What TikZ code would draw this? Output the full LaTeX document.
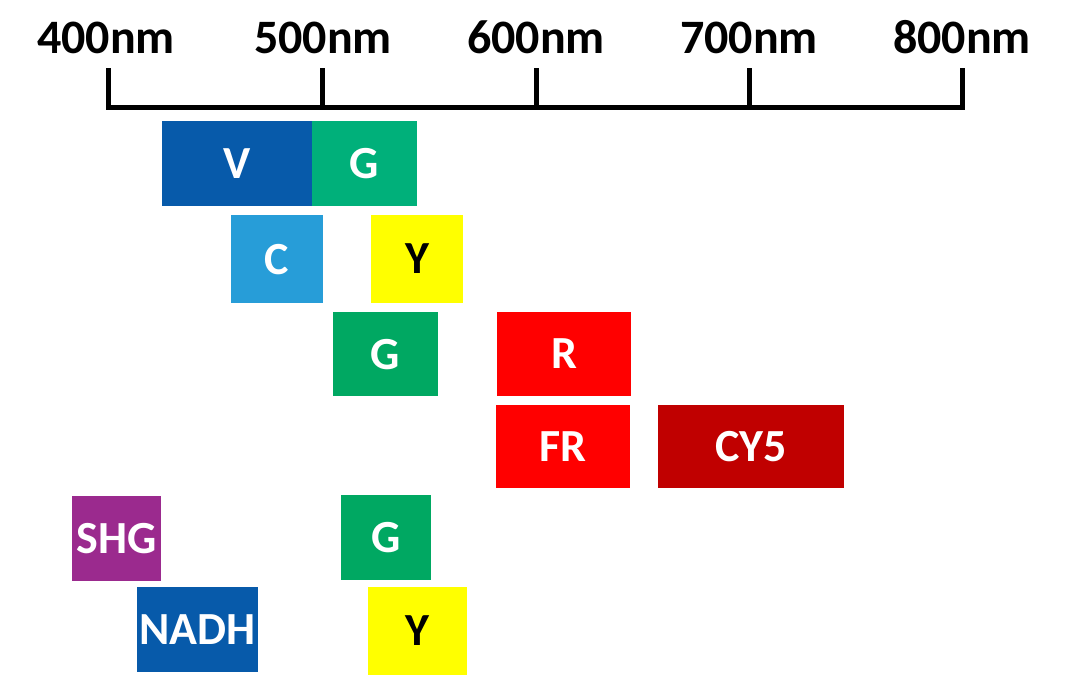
\documentclass[tikz,border=0pt]{standalone}
\usepackage{fontspec}
\setmainfont{Carlito}
\definecolor{vblue}{RGB}{7,90,170}
\definecolor{gteal}{RGB}{0,176,122}
\definecolor{ggreen}{RGB}{0,168,98}
\definecolor{cblue}{RGB}{39,157,216}
\definecolor{yyellow}{RGB}{255,255,0}
\definecolor{rred}{RGB}{255,0,0}
\definecolor{cyred}{RGB}{192,0,0}
\definecolor{shgpurple}{RGB}{155,42,142}
\begin{document}
\begin{tikzpicture}[x=1pt,y=-1pt,
  lbl/.style={font=\fontsize{48}{48}\selectfont\bfseries, anchor=base, inner sep=0pt},
  band/.style={draw=none, inner sep=0pt, outer sep=0pt, text=white,
    font=\fontsize{46}{46}\selectfont\bfseries, text depth=0pt},
  axis/.style={line width=5pt, black, line join=miter}]
\useasboundingbox (0,0) rectangle (1076,678);
% axis
\coordinate (t400) at (108,107);
\coordinate (t500) at (322,107);
\coordinate (t600) at (536,107);
\coordinate (t700) at (749,107);
\coordinate (t800) at (962,107);
\draw[axis] ([yshift=39pt]t400) -- (t400) -- (t800) -- ([yshift=39pt]t800);
\draw[axis] (t500) -- ([yshift=39pt]t500);
\draw[axis] (t600) -- ([yshift=39pt]t600);
\draw[axis] (t700) -- ([yshift=39pt]t700);
\node[lbl] (l400) at (106,53) {400nm};
\node[lbl] (l500) at (323,53) {500nm};
\node[lbl] (l600) at (536,53) {600nm};
\node[lbl] (l700) at (749,53) {700nm};
\node[lbl] (l800) at (962,53) {800nm};
% bands
\node[band, fill=vblue, minimum width=150pt, minimum height=85pt] (v) at (237,163.5) {V};
\node[band, fill=gteal, minimum width=105pt, minimum height=85pt] (g1) at (364.5,163.5) {G};
\node[band, fill=cblue, minimum width=92pt, minimum height=88pt] (c) at (277,259) {C};
\node[band, fill=yyellow, text=black, minimum width=92pt, minimum height=88pt] (y1) at (417,259) {Y};
\node[band, fill=ggreen, minimum width=105pt, minimum height=84pt] (g2) at (385.5,354) {G};
\node[band, fill=rred, minimum width=134pt, minimum height=84pt] (r) at (564,354) {R};
\node[band, fill=rred, minimum width=134pt, minimum height=83pt] (fr) at (563,446.5) {FR};
\node[band, fill=cyred, minimum width=186pt, minimum height=83pt] (cy5) at (751,446.5) {CY5};
\node[band, fill=shgpurple, minimum width=89pt, minimum height=85pt] (shg) at (116.5,538.5) {SHG};
\node[band, fill=ggreen, minimum width=90pt, minimum height=85pt] (g3) at (386,537.5) {G};
\node[band, fill=vblue, minimum width=121pt, minimum height=85pt] (nadh) at (197.5,629.5) {NADH};
\node[band, fill=yyellow, text=black, minimum width=99pt, minimum height=88pt] (y2) at (417.5,631) {Y};
\end{tikzpicture}
\end{document}
